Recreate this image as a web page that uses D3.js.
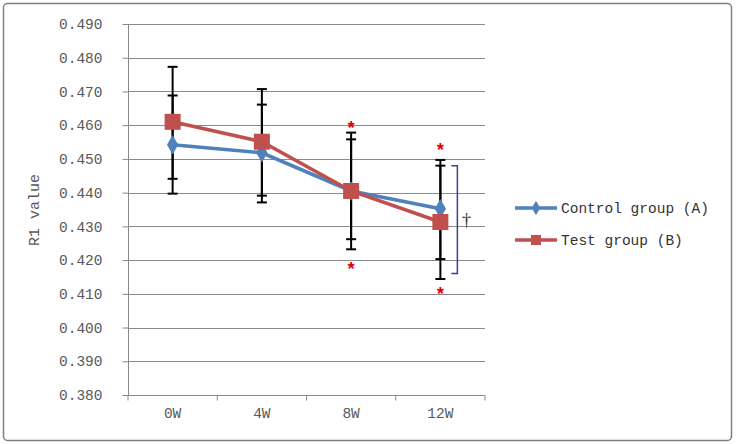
<!DOCTYPE html>
<html><head><meta charset="utf-8">
<script src="https://cdn.jsdelivr.net/npm/d3@7"></script>
<style>body{margin:0;background:#fff;} text{font-family:"Liberation Mono","DejaVu Sans Mono",monospace;}</style>
</head><body>
<svg id="c" width="739" height="444"></svg>
<script>
const categories = ["0W","4W","8W","12W"];
const controlValues = [0.4542, 0.4518, 0.4405, 0.4352];
const controlUpper  = [0.4688, 0.4661, 0.4558, 0.4480];
const controlLower  = [0.4397, 0.4371, 0.4262, 0.4203];
const testValues = [0.4610, 0.4551, 0.4405, 0.4313];
const testUpper  = [0.4773, 0.4707, 0.4578, 0.4497];
const testLower  = [0.4441, 0.4391, 0.4232, 0.4144];
const yTicks = [0.38,0.39,0.40,0.41,0.42,0.43,0.44,0.45,0.46,0.47,0.48,0.49];
const seriesNames = ["Control group (A)","Test group (B)"];
// significance asterisks: [category, value]
const asteriskCats = ["8W","8W","12W","12W"];
const asteriskVals = [0.4598, 0.4180, 0.4533, 0.4106];
// bracket spanning values at 12W
const bracketRange = [0.4480, 0.4160];

const svg = d3.select("#c");
svg.append("rect").attr("x",3.5).attr("y",3.5).attr("width",728).attr("height",437)
  .attr("rx",4).attr("fill","#fff").attr("stroke","#7f7f7f").attr("stroke-width",1.5);

const x = d3.scaleBand().domain(categories).range([128,485]).padding(0);
const y = d3.scaleLinear().domain([0.38,0.49]).range([395,24]);
const cx = c => x(c)+x.bandwidth()/2;

// gridlines
svg.append("g").selectAll("line").data(yTicks.slice(1)).join("line")
  .attr("x1",128).attr("x2",485).attr("y1",d=>Math.round(y(d))+0.5).attr("y2",d=>Math.round(y(d))+0.5)
  .attr("stroke","#8a8a8a").attr("stroke-width",1);

// y axis
const yAxis = d3.axisLeft(y).tickValues(yTicks).tickFormat(d3.format(".3f")).tickSize(6).tickPadding(20);
const gy = svg.append("g").attr("transform","translate(128.5,0)").call(yAxis);
gy.select(".domain").attr("stroke","#8a8a8a").attr("d","M0,24V395");
gy.selectAll(".tick line").attr("stroke","#8a8a8a");
gy.selectAll(".tick text").attr("fill","#595959").style("font-size","14.5px").style("font-family","Liberation Mono, monospace");

// x axis
const gx = svg.append("g").attr("transform","translate(0,395.5)");
gx.append("line").attr("x1",128).attr("x2",485).attr("stroke","#8a8a8a");
const bounds = categories.map(c=>x(c)).concat([485]);
gx.selectAll("line.t").data(bounds).join("line").attr("class","t")
  .attr("x1",d=>d).attr("x2",d=>d).attr("y1",0).attr("y2",5).attr("stroke","#8a8a8a");
gx.selectAll("text").data(categories).join("text")
  .attr("x",d=>cx(d)).attr("y",22).attr("text-anchor","middle")
  .attr("fill","#595959").style("font-size","14.5px").text(d=>d);

// y title
svg.append("text").attr("transform","translate(39,210) rotate(-90)")
  .attr("text-anchor","middle").attr("fill","#595959").style("font-size","15px").text("R1 value");

// error bars
function errBars(up, lo){
  const g = svg.append("g").attr("stroke","#000").attr("stroke-width",2);
  categories.forEach((c,i)=>{
    const xc = cx(c);
    g.append("line").attr("x1",xc).attr("x2",xc).attr("y1",y(up[i])).attr("y2",y(lo[i]));
    [up[i],lo[i]].forEach(v=>g.append("line").attr("x1",xc-5).attr("x2",xc+5).attr("y1",y(v)).attr("y2",y(v)));
  });
}
errBars(controlUpper, controlLower);
errBars(testUpper, testLower);

const line = d3.line().x((d,i)=>cx(categories[i])).y(d=>y(d));
// control
svg.append("path").datum(controlValues).attr("d",line).attr("fill","none").attr("stroke","#4F81BD").attr("stroke-width",3.5);
svg.append("g").selectAll("path").data(controlValues).join("path")
  .attr("d",d3.symbol(d3.symbolDiamond,110)())
  .attr("transform",(d,i)=>`translate(${cx(categories[i])},${y(d)})`).attr("fill","#4F81BD");
// test
svg.append("path").datum(testValues).attr("d",line).attr("fill","none").attr("stroke","#C0504D").attr("stroke-width",3.5);
svg.append("g").selectAll("rect").data(testValues).join("rect")
  .attr("x",(d,i)=>cx(categories[i])-8).attr("y",d=>y(d)-8).attr("width",16).attr("height",16)
  .attr("fill","#C0504D");

// asterisks
svg.append("g").selectAll("text").data(asteriskVals).join("text")
  .attr("x",(d,i)=>cx(asteriskCats[i])).attr("y",d=>y(d)+8).attr("text-anchor","middle")
  .attr("fill","#e00000").style("font-size","18px").style("font-weight","bold").text("*");

// bracket
const bx = cx("12W")+11;
svg.append("path").attr("d",`M${bx},${y(bracketRange[0])}H${bx+6}V${y(bracketRange[1])}H${bx}`)
  .attr("fill","none").attr("stroke","#3b3f8c").attr("stroke-width",1.5);
svg.append("text").attr("x",bx+15).attr("y",(y(bracketRange[0])+y(bracketRange[1]))/2+6)
  .attr("text-anchor","middle").attr("fill","#333").style("font-size","18px").style("font-family","Liberation Serif, serif").text("†");

// legend
const lg = svg.append("g");
[0,1].forEach(i=>{
  const ly = 208 + i*32;
  const col = i===0 ? "#4F81BD" : "#C0504D";
  lg.append("line").attr("x1",515).attr("x2",557).attr("y1",ly).attr("y2",ly).attr("stroke",col).attr("stroke-width",3.5);
  if(i===0) lg.append("path").attr("d",d3.symbol(d3.symbolDiamond,60)()).attr("transform",`translate(536,${ly})`).attr("fill",col);
  else lg.append("rect").attr("x",531).attr("y",ly-5).attr("width",10).attr("height",10).attr("fill",col);
  lg.append("text").attr("x",561).attr("y",ly+5).attr("fill","#333").style("font-size","14.5px").text(seriesNames[i]);
});
</script>
</body></html>
